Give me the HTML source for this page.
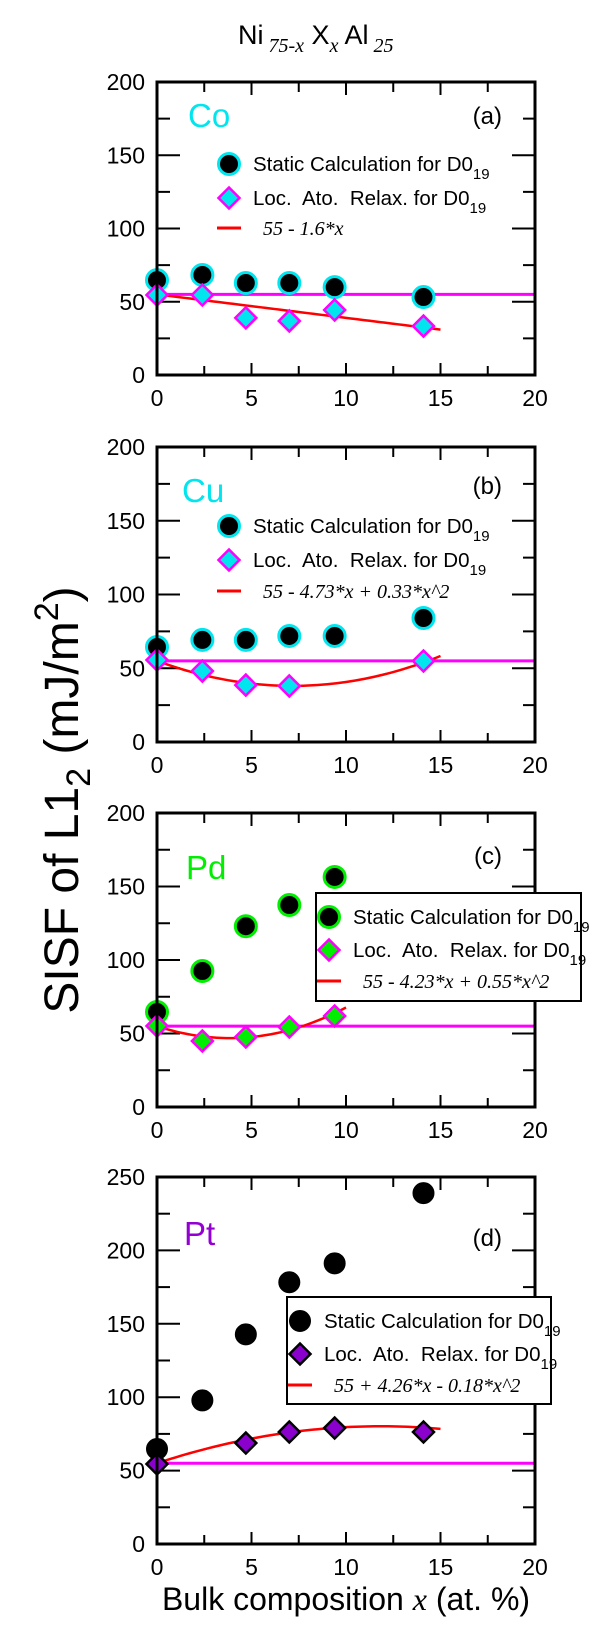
<!DOCTYPE html>
<html><head><meta charset="utf-8"><style>
html,body{margin:0;padding:0;background:#fff;}
svg{display:block;font-family:"Liberation Sans",Arial,sans-serif;}
</style></head><body>
<svg id="fig" width="600" height="1633" viewBox="0 0 600 1633" xmlns="http://www.w3.org/2000/svg">
<text x="238" y="44" font-size="27">Ni<tspan font-family="Liberation Serif,serif" font-style="italic" font-size="20" dy="8"> 75-x</tspan><tspan dy="-8"> X</tspan><tspan font-family="Liberation Serif,serif" font-style="italic" font-size="20" dy="8">x</tspan><tspan dy="-8"> Al</tspan><tspan font-family="Liberation Serif,serif" font-style="italic" font-size="20" dy="8"> 25</tspan></text>
<text transform="translate(78,800) rotate(-90)" text-anchor="middle" font-size="48">SISF of L1<tspan font-size="34" dy="12">2</tspan><tspan dy="-12"> (mJ/m</tspan><tspan font-size="34" dy="-20">2</tspan><tspan dy="20">)</tspan></text>
<text x="346" y="1610" text-anchor="middle" font-size="32">Bulk composition <tspan font-family="Liberation Serif,serif" font-style="italic">x</tspan> (at. %)</text>
</svg>
<script>
const compA = [0, 2.4, 4.7, 7.0, 9.4, 14.1];
const staticA = [64.8, 68.3, 62.8, 62.8, 60.0, 53.2];
const relaxXA = [0, 2.4, 4.7, 7.0, 9.4, 14.1];
const relaxA = [54.6, 54.6, 39.0, 36.9, 44.4, 33.4];
const fitA = [55, -1.6, 0];

const compB = [0, 2.4, 4.7, 7.0, 9.4, 14.1];
const staticB = [64.4, 69.2, 69.2, 71.9, 71.9, 84.1];
const relaxXB = [0, 2.4, 4.7, 7.0, 14.1];
const relaxB = [55.6, 48.1, 38.6, 38.0, 54.9];
const fitB = [55, -4.73, 0.33];

const compC = [0, 2.4, 4.7, 7.0, 9.4];
const staticC = [64.6, 92.5, 123.0, 137.4, 156.5];
const relaxXC = [0, 2.4, 4.7, 7.0, 9.4];
const relaxC = [55.1, 44.9, 47.6, 54.4, 61.9];
const fitC = [55, -4.23, 0.55];

const compD = [0, 2.4, 4.7, 7.0, 9.4, 14.1];
const staticD = [64.7, 97.8, 142.8, 178.3, 191.2, 239.0];
const relaxXD = [0, 4.7, 7.0, 9.4, 14.1];
const relaxD = [54.5, 68.8, 76.3, 79.0, 76.3];
const fitD = [55, 4.26, -0.18];

const xTicks = [0, 5, 10, 15, 20];
const yTicks200 = [0, 50, 100, 150, 200];
const yTicks250 = [0, 50, 100, 150, 200, 250];
const refLevel = 55;

const NS = 'http://www.w3.org/2000/svg';
const svg = document.getElementById('fig');
function mk(tag, attrs, parent) {
  const e = document.createElementNS(NS, tag);
  for (const k in attrs) e.setAttribute(k, attrs[k]);
  (parent || svg).appendChild(e);
  return e;
}
const L = 157, R = 535;

function panel(cfg) {
  const g = mk('g', {});
  
  
  const sx = v => L + (v / 20) * (R - L);
  const sy = v => cfg.bot - (v / cfg.ymax) * (cfg.bot - cfg.top);
  for (let v = 0; v <= 20; v += 2.5) {
    const major = v % 5 === 0;
    const t1 = mk('line', {x1: sx(v), x2: sx(v), y1: cfg.bot, y2: cfg.bot - (major ? 12 : 9), stroke: '#000', 'stroke-width': 2}, g);
    
    
    const t2 = mk('line', {x1: sx(v), x2: sx(v), y1: cfg.top, y2: cfg.top + (major ? 13 : 10), stroke: '#000', 'stroke-width': 2}, g);
    
    
  }
  for (let v = 0; v <= cfg.ymax; v += 25) {
    const major = v % 50 === 0;
    const t1 = mk('line', {x1: L, x2: L + (major ? 23 : 13), y1: sy(v), y2: sy(v), stroke: '#000', 'stroke-width': 2}, g);
    
    
    const t2 = mk('line', {x1: R, x2: R - (major ? 23 : 12), y1: sy(v), y2: sy(v), stroke: '#000', 'stroke-width': 2}, g);
    
    
  }
  xTicks.forEach(v => {
    const t = mk('text', {x: sx(v), y: cfg.bot + 31, 'text-anchor': 'middle', 'font-size': 23}, g);
    
    
    t.textContent = v;
  });
  cfg.yt.forEach(v => {
    const t = mk('text', {x: 145, y: sy(v) + 8, 'text-anchor': 'end', 'font-size': 23}, g);
    
    
    t.textContent = v;
  });
  const ref = mk('line', {x1: L, x2: R, y1: sy(refLevel), y2: sy(refLevel), stroke: '#ff00ff', 'stroke-width': 3}, g);
  
  
  let d = '';
  for (let i = 0; i <= 60; i++) {
    const x = cfg.fitEnd * i / 60;
    const y = cfg.fit[0] + cfg.fit[1] * x + cfg.fit[2] * x * x;
    d += (i ? 'L' : 'M') + sx(x).toFixed(2) + ',' + sy(y).toFixed(2);
  }
  const fp = mk('path', {d: d, fill: 'none', stroke: '#ff0000', 'stroke-width': 2.5}, g);
  
  
  cfg.sx.forEach((x, i) => {
    const c = mk('circle', {cx: sx(x), cy: sy(cfg.sv[i]), r: 10.5, fill: '#000', stroke: cfg.ring, 'stroke-width': cfg.ring === '#000' ? 1 : 3}, g);
    
    
  });
  cfg.rx.forEach((x, i) => {
    const cx = sx(x), cy = sy(cfg.rv[i]), h = 10.5;
    const p = mk('polygon', {points: `${cx},${cy - h} ${cx + h},${cy} ${cx},${cy + h} ${cx - h},${cy}`, fill: cfg.dfill, stroke: cfg.dstroke, 'stroke-width': 2.5}, g);
    
    
  });
  const fr = mk('rect', {x: L, y: cfg.top, width: R - L, height: cfg.bot - cfg.top, fill: 'none', stroke: '#000', 'stroke-width': 3}, g);
  
  
  const el = mk('text', {x: cfg.elX, y: cfg.elY, 'font-size': 33, fill: cfg.elColor}, g);
  
  
  el.textContent = cfg.el;
  const pl = mk('text', {x: 502, y: cfg.letY, 'text-anchor': 'end', 'font-size': 24}, g);
  
  
  pl.textContent = '(' + cfg.tag + ')';
  const lg = cfg.leg;
  if (lg.box) {
    const b = mk('rect', {x: lg.box[0], y: lg.box[1], width: lg.box[2] - lg.box[0], height: lg.box[3] - lg.box[1], fill: '#fff', stroke: '#000', 'stroke-width': 2}, g);
    
    
  }
  const lc = mk('circle', {cx: lg.mx, cy: lg.ys[0], r: 10.5, fill: '#000', stroke: cfg.ring, 'stroke-width': cfg.ring === '#000' ? 1 : 3}, g);
  
  
  const h = 10.5, my = lg.ys[1];
  const ld = mk('polygon', {points: `${lg.mx},${my - h} ${lg.mx + h},${my} ${lg.mx},${my + h} ${lg.mx - h},${my}`, fill: cfg.dfill, stroke: cfg.dstroke, 'stroke-width': 2.5}, g);
  
  
  const ll = mk('line', {x1: lg.mx - 12, x2: lg.mx + 12, y1: lg.ys[2], y2: lg.ys[2], stroke: '#ff0000', 'stroke-width': 3}, g);
  
  
  const t1 = mk('text', {x: lg.tx, y: lg.ys[0] + 7, 'font-size': 20.5}, g);
  
  
  t1.innerHTML = 'Static Calculation for D0<tspan font-size="15" dy="8">19</tspan>';
  const t2 = mk('text', {x: lg.tx, y: lg.ys[1] + 7, 'font-size': 20.5}, g);
  
  
  t2.innerHTML = 'Loc.&#160; Ato.&#160; Relax. for D0<tspan font-size="15" dy="8">19</tspan>';
  const t3 = mk('text', {x: lg.tx + 10, y: lg.ys[2] + 7, 'font-size': 20, 'font-family': 'Liberation Serif,serif', 'font-style': 'italic'}, g);
  
  
  t3.textContent = cfg.fitLabel;
}

panel({tag: 'a', top: 82, bot: 375, ymax: 200, yt: yTicks200, sx: compA, sv: staticA, rx: relaxXA, rv: relaxA,
  fit: fitA, fitEnd: 15, ring: '#00e5ee', dfill: '#00e5ee', dstroke: '#ff00ff',
  el: 'Co', elX: 188, elY: 127, elColor: '#00e5ee', letY: 124, fitLabel: '55 - 1.6*x',
  leg: {mx: 229, tx: 253, ys: [164, 198, 228]}});
panel({tag: 'b', top: 447, bot: 742, ymax: 200, yt: yTicks200, sx: compB, sv: staticB, rx: relaxXB, rv: relaxB,
  fit: fitB, fitEnd: 15, ring: '#00e5ee', dfill: '#00e5ee', dstroke: '#ff00ff',
  el: 'Cu', elX: 182, elY: 502, elColor: '#00e5ee', letY: 494, fitLabel: '55 - 4.73*x + 0.33*x^2',
  leg: {mx: 229, tx: 253, ys: [526, 560, 591]}});
panel({tag: 'c', top: 813, bot: 1107, ymax: 200, yt: yTicks200, sx: compC, sv: staticC, rx: relaxXC, rv: relaxC,
  fit: fitC, fitEnd: 10, ring: '#00ee00', dfill: '#00ee00', dstroke: '#ff00ff',
  el: 'Pd', elX: 186, elY: 879, elColor: '#00ee00', letY: 864, fitLabel: '55 - 4.23*x + 0.55*x^2',
  leg: {box: [316, 893, 581, 1001], mx: 329, tx: 353, ys: [917, 950, 981]}});
panel({tag: 'd', top: 1177, bot: 1544, ymax: 250, yt: yTicks250, sx: compD, sv: staticD, rx: relaxXD, rv: relaxD,
  fit: fitD, fitEnd: 15, ring: '#000', dfill: '#8a00cc', dstroke: '#000',
  el: 'Pt', elX: 184, elY: 1245, elColor: '#9400d3', letY: 1246, fitLabel: '55 + 4.26*x - 0.18*x^2',
  leg: {box: [287, 1297, 551, 1404], mx: 300, tx: 324, ys: [1321, 1354, 1385]}});
</script>
</body></html>
